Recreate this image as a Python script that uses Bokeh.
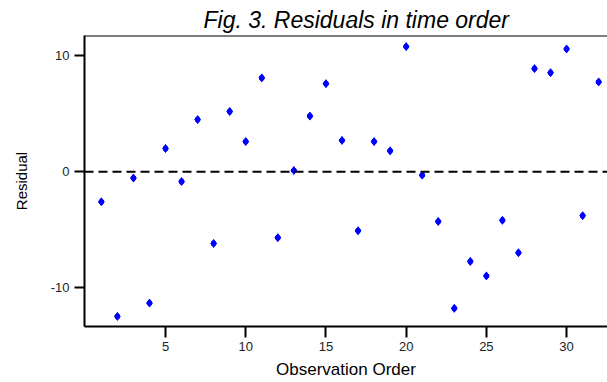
from bokeh.plotting import figure
from bokeh.models import Range1d, Span, FixedTicker
from bokeh.embed import file_html
from bokeh.resources import INLINE

# Data
order = list(range(1, 33))
residual = [-2.6, -12.5, -0.55, -11.35, 2.0, -0.85, 4.5, -6.2, 5.2, 2.6,
            8.1, -5.7, 0.1, 4.8, 7.6, 2.7, -5.1, 2.6, 1.8, 10.8,
            -0.3, -4.3, -11.8, -7.75, -9.0, -4.2, -7.0, 8.9, 8.55, 10.6,
            -3.8, 7.75]
x_ticks = [5, 10, 15, 20, 25, 30]
y_ticks = [-10, 0, 10]
y_tick_labels = {-10: "-10", 0: "0", 10: "10"}

FONT = "Liberation Sans"

p = figure(width=607, height=382, output_backend="svg", toolbar_location=None,
           x_range=Range1d(-0.05, 32.55), y_range=Range1d(-13.37, 11.76),
           min_border_left=84, min_border_right=0, min_border_top=35,
           min_border_bottom=56, title="Fig. 3. Residuals in time order")

p.title.text_font = FONT
p.title.text_font_style = "italic"
p.title.text_font_size = "23px"
p.title.text_color = "black"
p.title.align = "left"
p.title.offset = 119
p.title.standoff = 5

p.outline_line_color = None
p.grid.visible = False
p.background_fill_color = "white"
p.border_fill_color = "white"

top = Span(location=11.76, dimension="width", line_color="black", line_width=2)
p.add_layout(top)

zero = Span(location=0, dimension="width", line_color="black", line_width=2,
            line_dash="9 5")
p.add_layout(zero)

p.scatter(order, residual, marker="diamond", size=8, color="#0000FF")
p.scatter(order, residual, marker="circle", size=5, color="#0000FF")

for ax in (p.xaxis[0], p.yaxis[0]):
    ax.axis_line_width = 2
    ax.axis_line_color = "black"
    ax.major_tick_line_width = 2
    ax.major_tick_line_color = "black"
    ax.major_tick_in = 0
    ax.minor_tick_line_color = None
    ax.major_label_text_font = FONT
    ax.major_label_text_font_size = "13px"
    ax.major_label_text_color = "#222222"
    ax.axis_label_text_font = FONT
    ax.axis_label_text_font_style = "normal"
    ax.axis_label_text_color = "black"

p.xaxis[0].ticker = FixedTicker(ticks=x_ticks)
p.yaxis[0].ticker = FixedTicker(ticks=y_ticks)
p.yaxis[0].major_label_overrides = y_tick_labels
p.xaxis[0].major_tick_out = 11
p.yaxis[0].major_tick_out = 10
p.xaxis[0].major_label_standoff = 4
p.yaxis[0].major_label_standoff = 5
p.xaxis[0].axis_label = "Observation Order"
p.yaxis[0].axis_label = "Residual"
p.xaxis[0].axis_label_text_font_size = "17px"
p.yaxis[0].axis_label_text_font_size = "15px"
p.xaxis[0].axis_label_standoff = 6
p.yaxis[0].axis_label_standoff = 18

open("out.html", "w").write(file_html(p, INLINE))
